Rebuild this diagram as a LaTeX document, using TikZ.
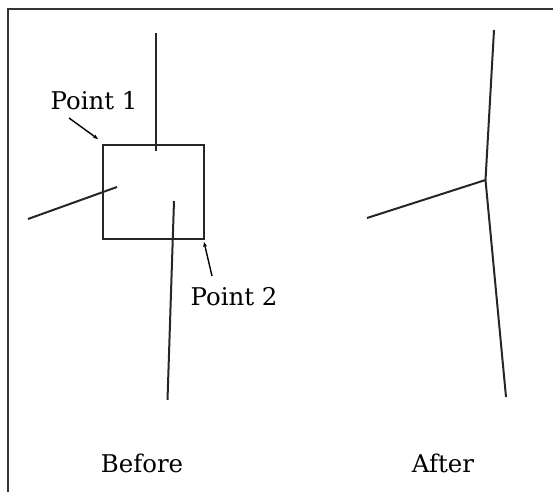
\documentclass[tikz,border=0pt]{standalone}
\usepackage{fontspec}
\setmainfont{DejaVu Serif}
\usetikzlibrary{arrows.meta}
\begin{document}
\begin{tikzpicture}[x=1bp,y=-1bp,
  ln/.style={line width=2bp,draw=black!85},
  lbl/.style={inner sep=0pt,font=\fontsize{24.5}{28}\selectfont},
  ptr/.style={line width=1.4bp,-{Stealth[length=5bp,width=4bp]}}]
\useasboundingbox (0,0) rectangle (553,492);
% frame
\draw[line width=2bp,draw=black!80] (8,492) -- (8,9) -- (553,9);
% Before
\coordinate (sqa) at (103,145);
\coordinate (sqb) at (204,239);
\draw[ln] (sqa) rectangle (sqb);
\coordinate (t1) at (155.5,33);
\coordinate (t2) at (155.5,151);
\draw[ln] (t1) -- (t2);
\coordinate (l1) at (28,219);
\coordinate (l2) at (117,187);
\draw[ln] (l1) -- (l2);
\coordinate (v1) at (174,201);
\coordinate (v2) at (167.5,400);
\draw[ln] (v1) -- (v2);
\node[lbl] (p1) at (94,101) {Point 1};
\node[lbl] (p2) at (234,297) {Point 2};
\coordinate (p1s) at (69,118);
\coordinate (p1e) at (98,139);
\draw[ptr] (p1s) -- (p1e);
\coordinate (p2s) at (212,276);
\coordinate (p2e) at (204,242);
\draw[ptr] (p2s) -- (p2e);
\node[lbl] (before) at (142,463) {Before};
% After
\coordinate (a1) at (494,30);
\coordinate (aj) at (485.5,180);
\coordinate (a2) at (506,397);
\coordinate (al) at (367,218);
\draw[ln] (a1) -- (aj) -- (a2);
\draw[ln] (al) -- (aj);
\node[lbl] (after) at (443,463) {After};
\end{tikzpicture}
\end{document}
